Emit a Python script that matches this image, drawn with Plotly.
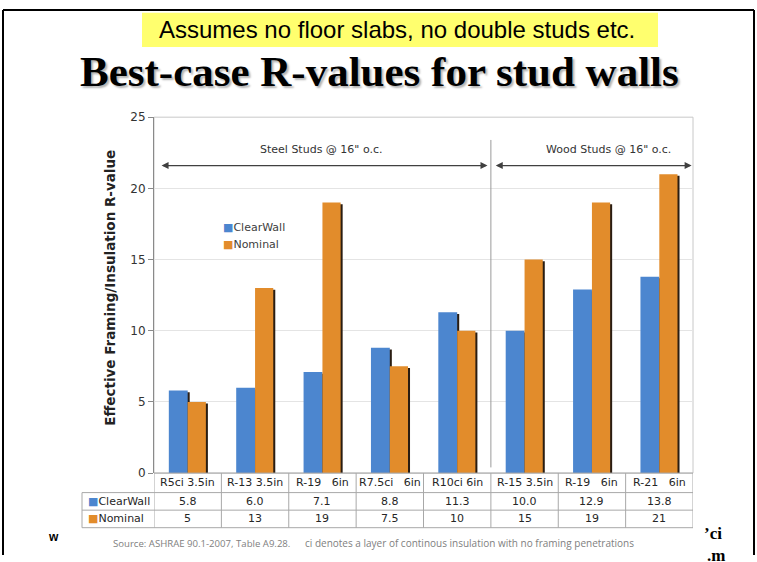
import plotly.graph_objects as go

# ---- data ----
categories = ["R5ci 3.5in", "R-13 3.5in", "R-19   6in", "R7.5ci   6in", "R10ci 6in",
              "R-15 3.5in", "R-19   6in", "R-21   6in"]
clearwall = [5.8, 6.0, 7.1, 8.8, 11.3, 10.0, 12.9, 13.8]
nominal = [5, 13, 19, 7.5, 10, 15, 19, 21]
series_names = ["ClearWall", "Nominal"]
n_steel = 5
y_ticks = [0, 5, 10, 15, 20, 25]

BLUE = "#4C86CF"
ORANGE = "#E28C2B"
SHADOW = "#2a1d12"
GRID_LINE = "#a8a8a8"

W, H = 757, 562
def px(x):
    return x / W
def py(y):
    return 1 - y / H

idx = list(range(len(categories)))
shadow_drop = 0.12

fig = go.Figure()
fig.add_trace(go.Bar(x=idx, y=[v - shadow_drop for v in clearwall], offset=-0.25, width=0.28,
                     marker=dict(color=SHADOW, line_width=0), showlegend=False, hoverinfo="skip"))
fig.add_trace(go.Bar(x=idx, y=clearwall, offset=-0.28, width=0.28, name=series_names[0],
                     marker=dict(color=BLUE, line_width=0), showlegend=False))
fig.add_trace(go.Bar(x=idx, y=[v - shadow_drop for v in nominal], offset=0.03, width=0.27,
                     marker=dict(color=SHADOW, line_width=0), showlegend=False, hoverinfo="skip"))
fig.add_trace(go.Bar(x=idx, y=nominal, offset=0.0, width=0.27, name=series_names[1],
                     marker=dict(color=ORANGE, line_width=0), showlegend=False))

fig.update_layout(
    width=W, height=H, autosize=False,
    margin=dict(l=0, r=0, t=0, b=0),
    paper_bgcolor="white", plot_bgcolor="white",
    barmode="overlay", showlegend=False,
    xaxis=dict(domain=[px(154), px(693)], range=[-0.5, len(categories) - 0.5],
               showticklabels=False, showgrid=False, zeroline=False, ticks="",
               showline=False, fixedrange=True),
    yaxis=dict(domain=[py(478), py(113)], range=[0, 25], tickvals=y_ticks,
               showgrid=True, gridcolor="#e4e4e4", gridwidth=1, zeroline=False,
               showline=True, linecolor="#8a8a8a", linewidth=1,
               ticks="outside", ticklen=5, tickcolor="#8a8a8a",
               tickfont=dict(family="DejaVu Sans", size=12, color="#333333"),
               fixedrange=True),
)

shapes = []
# plot area border
shapes.append(dict(type="rect", xref="x domain", yref="y domain", x0=0, x1=1, y0=0, y1=1,
                   line=dict(color="#c8c8c8", width=1), layer="below"))
# separator between steel and wood
shapes.append(dict(type="line", xref="x", yref="y", x0=n_steel - 0.5, x1=n_steel - 0.5,
                   y0=0.4, y1=23.4, line=dict(color="#9a9a9a", width=1)))
# yellow highlight box
shapes.append(dict(type="rect", xref="paper", yref="paper", x0=px(142), x1=px(658),
                   y0=py(41), y1=py(6), fillcolor="#FFFF6E", line_width=0, layer="below"))
# slide frame
for (x0, y0, x1, y1) in [(3, 3, 754, 3), (3, 3, 3, 562), (754, 3, 754, 562)]:
    shapes.append(dict(type="line", xref="paper", yref="paper", x0=px(x0), x1=px(x1),
                       y0=py(y0), y1=py(y1), line=dict(color="black", width=2)))

# ---- data table under the chart ----
row_top, row_h1, row_h2 = 478, 20, 18
r0 = row_top
r1 = r0 + row_h1
r2 = r1 + row_h2
r3 = r2 + row_h2
table_left = 82
shapes.append(dict(type="line", xref="x", yref="paper", x0=-0.5, x1=len(categories) - 0.5,
                   y0=py(r0), y1=py(r0), line=dict(color=GRID_LINE, width=1)))
for yy in (r1, r2, r3):
    shapes.append(dict(type="line", xref="paper", yref="paper", x0=px(table_left), x1=px(693),
                       y0=py(yy), y1=py(yy), line=dict(color=GRID_LINE, width=1)))
for k in range(len(categories) + 1):
    shapes.append(dict(type="line", xref="x", yref="paper", x0=k - 0.5, x1=k - 0.5,
                       y0=py(r0), y1=py(r3), line=dict(color=GRID_LINE, width=1)))
shapes.append(dict(type="line", xref="paper", yref="paper", x0=px(table_left), x1=px(table_left),
                   y0=py(r1), y1=py(r3), line=dict(color=GRID_LINE, width=1)))
fig.update_layout(shapes=shapes)

TFONT = dict(family="DejaVu Sans", size=11, color="#262626")
ann = []
for i in idx:
    ann.append(dict(x=i, y=py((r0 + r1) / 2), xref="x", yref="paper", xanchor="center",
                    yanchor="middle", showarrow=False, text=categories[i], font=TFONT))
    ann.append(dict(x=i, y=py((r1 + r2) / 2), xref="x", yref="paper", xanchor="center",
                    yanchor="middle", showarrow=False, text=f"{clearwall[i]:.1f}", font=TFONT))
    ann.append(dict(x=i, y=py((r2 + r3) / 2), xref="x", yref="paper", xanchor="center",
                    yanchor="middle", showarrow=False, text=f"{nominal[i]:g}", font=TFONT))
for name, col, (ya, yb) in [(series_names[0], BLUE, (r1, r2)), (series_names[1], ORANGE, (r2, r3))]:
    ann.append(dict(x=px(table_left + 4), y=py((ya + yb) / 2), xref="paper", yref="paper",
                    xanchor="left", yanchor="middle", showarrow=False,
                    text=f"<span style='color:{col}'>■</span>{name}", font=TFONT))

# group arrows
for (xa, xb) in [(-0.41, n_steel - 0.55), (n_steel - 0.45, len(categories) - 0.52)]:
    ann.append(dict(x=xb, y=21.6, ax=xa, ay=21.6, xref="x", yref="y", axref="x", ayref="y",
                    showarrow=True, arrowside="end+start", arrowhead=2, arrowsize=1,
                    arrowwidth=1.4, arrowcolor="#404040", text=""))
ann.append(dict(x=1.99, y=22.75, xref="x", yref="y", showarrow=False, xanchor="center", yanchor="middle",
                text="Steel Studs @ 16\" o.c.", font=dict(family="DejaVu Sans", size=11, color="#333")))
ann.append(dict(x=6.24, y=22.75, xref="x", yref="y", showarrow=False, xanchor="center", yanchor="middle",
                text="Wood Studs @ 16\" o.c.", font=dict(family="DejaVu Sans", size=11, color="#333")))
# legend
ann.append(dict(x=px(221), y=py(226), xref="paper", yref="paper", xanchor="left", yanchor="middle",
                showarrow=False, text=f"<span style='color:{BLUE}'>■</span>{series_names[0]}",
                font=dict(family="DejaVu Sans", size=11, color="#404040")))
ann.append(dict(x=px(221), y=py(244), xref="paper", yref="paper", xanchor="left", yanchor="middle",
                showarrow=False, text=f"<span style='color:{ORANGE}'>■</span>{series_names[1]}",
                font=dict(family="DejaVu Sans", size=11, color="#404040")))
# y axis title
ann.append(dict(x=px(110), y=py(288), xref="paper", yref="paper", showarrow=False, textangle=-90,
                xanchor="center", yanchor="middle",
                text="<b>Effective Framing/Insulation R-value</b>",
                font=dict(family="DejaVu Sans", size=13.5, color="#222")))
# headings
ann.append(dict(x=px(397), y=py(23), xref="paper", yref="paper", showarrow=False,
                xanchor="center", yanchor="middle",
                text="Assumes no floor slabs, no double studs etc.",
                font=dict(family="Liberation Sans", size=24, color="black")))
ann.append(dict(x=px(379), y=py(66), xref="paper", yref="paper", showarrow=False,
                xanchor="center", yanchor="middle",
                text="<b>Best-case R-values for stud walls</b>",
                font=dict(family="Liberation Serif", size=43, color="black",
                          shadow="2px 2px 2px rgba(0,0,0,0.3)")))
# source line
ann.append(dict(x=px(111), y=py(550), xref="paper", yref="paper", xanchor="left", yanchor="middle",
                showarrow=False, text="Source: ASHRAE 90.1-2007, Table A9.28.",
                font=dict(family="Open Sans", size=9.6, color="#808080")))
ann.append(dict(x=px(303), y=py(550), xref="paper", yref="paper", xanchor="left", yanchor="middle",
                showarrow=False,
                text="ci denotes a layer of continous insulation with no framing penetrations",
                font=dict(family="Open Sans", size=10, color="#808080")))
# slide remnants
ann.append(dict(x=px(53), y=py(544), xref="paper", yref="paper", showarrow=False,
                xanchor="center", yanchor="middle",
                text="<b>w</b>", font=dict(family="Liberation Sans", size=12, color="black")))
ann.append(dict(x=px(702), y=py(540), xref="paper", yref="paper", xanchor="left", yanchor="middle",
                showarrow=False, text="<b>ʼci</b>",
                font=dict(family="Liberation Serif", size=17, color="black")))
ann.append(dict(x=px(705), y=py(551), xref="paper", yref="paper", xanchor="left", yanchor="top",
                showarrow=False, text="<b>.m</b>",
                font=dict(family="Liberation Serif", size=17, color="black")))
fig.update_layout(annotations=ann)

fig.write_html("out.html", config=dict(displayModeBar=False),
               post_script="document.body.style.margin='0px';document.body.style.overflow='hidden';")
